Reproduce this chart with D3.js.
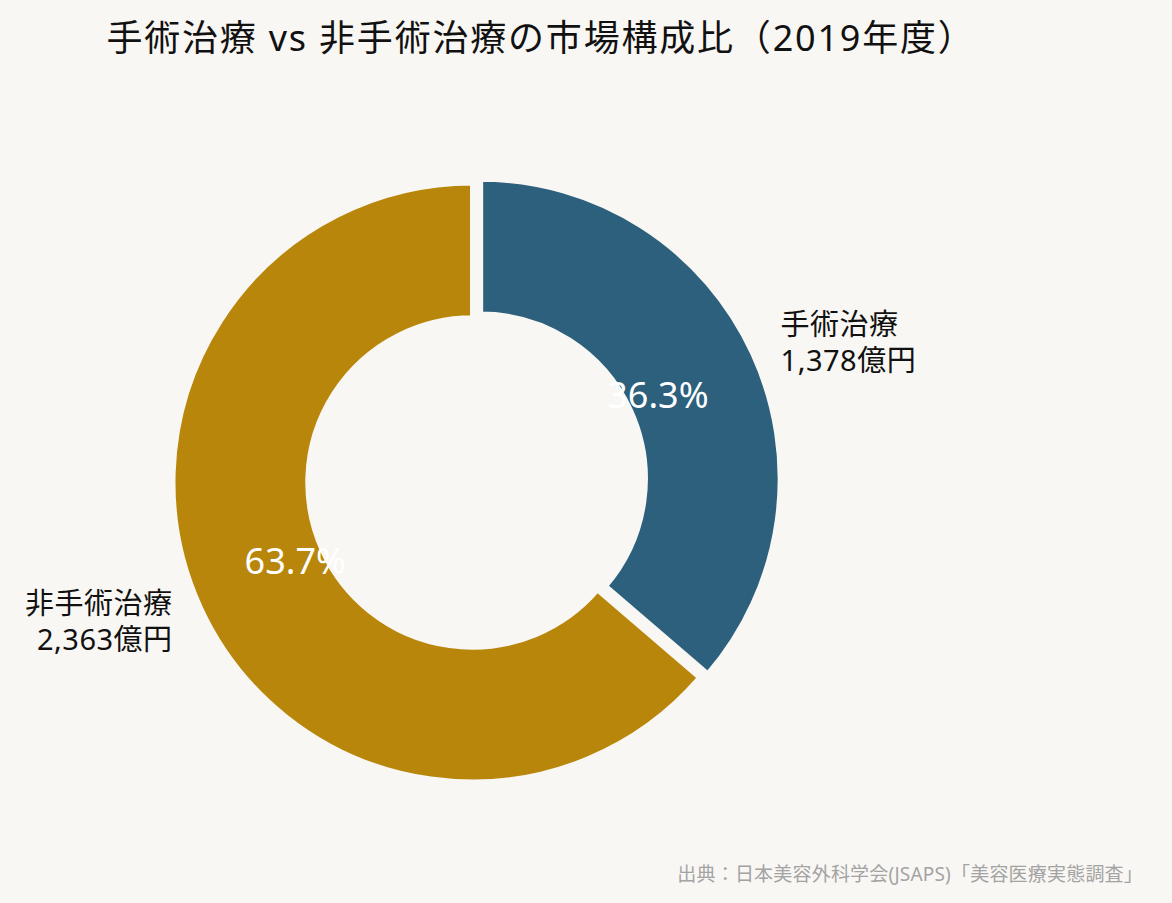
<!DOCTYPE html>
<html lang="ja">
<head>
<meta charset="utf-8">
<title>手術治療 vs 非手術治療の市場構成比</title>
<script src="https://cdn.jsdelivr.net/npm/d3@7"></script>
<style>
  html, body {
    margin: 0;
    padding: 0;
    background: #f9f7f3;
  }
  svg text {
    font-family: "Noto Sans", "Noto Sans CJK JP", sans-serif;
  }
</style>
</head>
<body>
<svg id="chart"></svg>
<script>
// data
const categories = ["手術治療", "非手術治療"];
const amounts = ["1,378億円", "2,363億円"];
const shares = [36.3, 63.7];

const titleText = "手術治療 vs 非手術治療の市場構成比（2019年度）";
const sourceText = "出典：日本美容外科学会(JSAPS)「美容医療実態調査」";

const config = {
  width: 1172,
  height: 903,
  cx: 472.5,
  cy: 482.5,
  radius: 299.5,
  holeRatio: 0.55,
  pctDistance: 195,
  labelDistance: 330,
  explode: [9, 0],
  colors: ["#2c607d", "#b8860b"],
  bg: "#f9f7f3",
};

const svg = d3
  .select("#chart")
  .attr("width", config.width)
  .attr("height", config.height)
  .style("background", config.bg);

// title
svg
  .append("text")
  .attr("x", 541)
  .attr("y", 37)
  .attr("text-anchor", "middle")
  .attr("dominant-baseline", "central")
  .style("font-size", "36px")
  .style("letter-spacing", "1.8px")
  .style("fill", "#111")
  .text(titleText);

const pieData = d3
  .pie()
  .sort(null)
  .value((d) => d)(shares);

const arc = d3
  .arc()
  .innerRadius(config.radius * config.holeRatio)
  .outerRadius(config.radius);

// explode offsets along each slice's mid angle
const slices = pieData.map((p, i) => {
  const mid = (p.startAngle + p.endAngle) / 2;
  const dx = Math.sin(mid);
  const dy = -Math.cos(mid);
  const ox = config.cx + dx * config.explode[i];
  const oy = config.cy + dy * config.explode[i];
  return { p, i, dx, dy, ox, oy };
});

const chart = svg.append("g");

chart
  .selectAll(".slice")
  .data(slices)
  .join("path")
  .attr("class", "slice")
  .attr("transform", (d) => `translate(${d.ox},${d.oy})`)
  .attr("d", (d) => arc(d.p))
  .attr("fill", (d) => config.colors[d.i])
  .attr("stroke", config.bg)
  .attr("stroke-width", 5)
  .attr("stroke-linejoin", "miter");

// percentage labels
chart
  .selectAll(".pct")
  .data(slices)
  .join("text")
  .attr("class", "pct")
  .attr("x", (d) => d.ox + d.dx * config.pctDistance)
  .attr("y", (d) => d.oy + d.dy * config.pctDistance - 3)
  .attr("text-anchor", "middle")
  .attr("dominant-baseline", "central")
  .style("font-size", "36px")
  .style("fill", "#ffffff")
  .text((d) => d3.format(".1f")(shares[d.i]) + "%");

// category labels
const labels = chart
  .selectAll(".cat-label")
  .data(slices)
  .join("text")
  .attr("class", "cat-label")
  .attr("text-anchor", (d) => (d.dx >= 0 ? "start" : "end"))
  .style("font-size", "29px")
  .style("letter-spacing", "0.5px")
  .style("fill", "#111");

labels.each(function (d) {
  const x = d.ox + d.dx * config.labelDistance;
  const y = d.oy + d.dy * config.labelDistance;
  const t = d3.select(this);
  t.append("tspan")
    .attr("x", x)
    .attr("y", y - 18)
    .attr("dominant-baseline", "central")
    .text(categories[d.i]);
  t.append("tspan")
    .attr("x", x)
    .attr("y", y + 18)
    .attr("dominant-baseline", "central")
    .text(amounts[d.i]);
});

// source
svg
  .append("text")
  .attr("x", 1143)
  .attr("y", 874)
  .attr("text-anchor", "end")
  .attr("dominant-baseline", "central")
  .style("font-size", "19px")
  .style("letter-spacing", "0.2px")
  .style("fill", "#a3a3a3")
  .text(sourceText);
</script>
</body>
</html>
